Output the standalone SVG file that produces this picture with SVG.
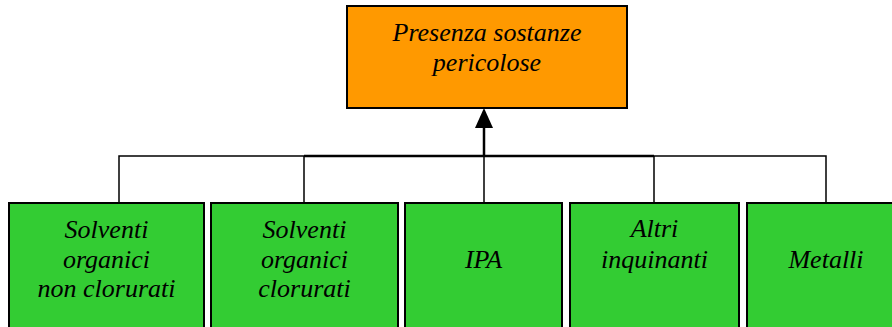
<svg xmlns="http://www.w3.org/2000/svg" width="892" height="327" viewBox="0 0 892 327">
<style>
.box{stroke:#000;stroke-width:2}
.top{fill:#FF9900}
.leaf{fill:#33CC33}
text{font-family:"Liberation Serif","Times New Roman",serif;font-style:italic;font-size:26px;fill:#000;text-anchor:middle}
.c{stroke:#000;fill:none}
</style>
<g id="connectors">
<path class="c" stroke-width="1.5" d="M119,203 V156 H304 M654,156 H826 V203 M304,156 V203 M654,156 V203 M484,156 V203"/>
<path class="c" stroke-width="2.5" d="M304,156 H654"/>
<path class="c" stroke-width="2.5" d="M484,156 V128"/>
<path d="M475,128 L484,108 L493,128 Z" fill="#000"/>
</g>
<g id="n-top">
<rect class="box top" x="347" y="6" width="280" height="102"/>
<text x="487" y="41">Presenza sostanze</text>
<text x="487" y="71">pericolose</text>
</g>
<g id="n-solv-nc">
<rect class="box leaf" x="9" y="203" width="195" height="125"/>
<text x="106.5" y="238">Solventi</text>
<text x="106.5" y="268">organici</text>
<text x="106.5" y="297">non clorurati</text>
</g>
<g id="n-solv-c">
<rect class="box leaf" x="211" y="203" width="187" height="125"/>
<text x="304.5" y="238">Solventi</text>
<text x="304.5" y="268">organici</text>
<text x="304.5" y="297">clorurati</text>
</g>
<g id="n-ipa">
<rect class="box leaf" x="405" y="203" width="157" height="125"/>
<text x="483.5" y="268">IPA</text>
</g>
<g id="n-altri">
<rect class="box leaf" x="570" y="203" width="169" height="125"/>
<text x="654.5" y="237">Altri</text>
<text x="654.5" y="268">inquinanti</text>
</g>
<g id="n-metalli">
<rect class="box leaf" x="747" y="203" width="150" height="125"/>
<text x="826" y="268">Metalli</text>
</g>
</svg>
